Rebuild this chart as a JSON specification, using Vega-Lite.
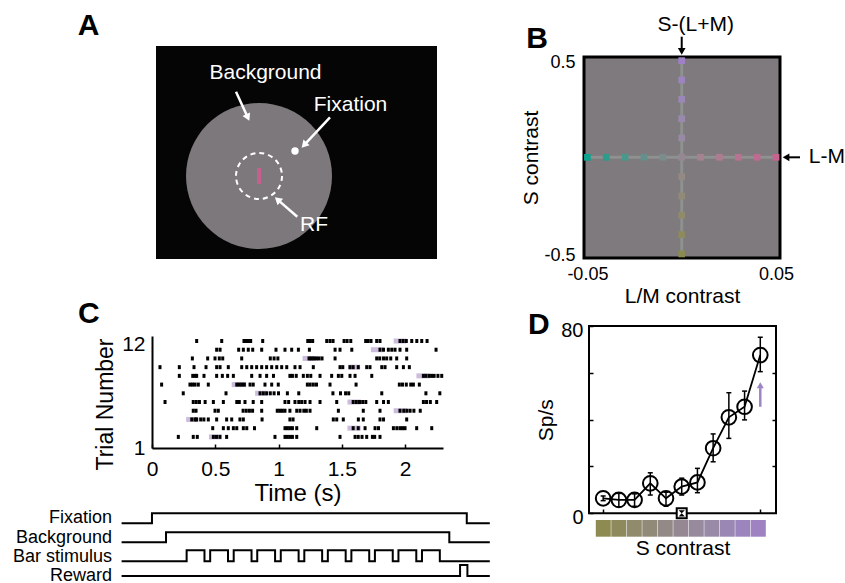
{
"$schema": "https://vega.github.io/schema/vega-lite/v6.json",
"width": 845, "height": 583, "autosize": {"type": "none"}, "padding": 0, "background": "white",
"config": {
  "view": {"stroke": null},
  "font": "Liberation Sans",
  "axis": {"grid": false, "labelColor": "black", "titleColor": "black", "titleFontWeight": "normal", "labelFont": "Liberation Sans", "titleFont": "Liberation Sans", "domainColor": "black", "tickColor": "black", "labelFlush": false, "labelOverlap": false}
},
"datasets": {
  "spikes": [
    {"k":12,"t":0.353},{"k":12,"t":0.551},{"k":12,"t":0.727},{"k":12,"t":0.745},{"k":12,"t":0.762},{"k":12,"t":0.78},{"k":12,"t":0.875},{"k":12,"t":1.231},{"k":12,"t":1.25},{"k":12,"t":1.27},{"k":12,"t":1.381},{"k":12,"t":1.407},{"k":12,"t":1.431},{"k":12,"t":1.518},{"k":12,"t":1.542},{"k":12,"t":1.571},{"k":12,"t":1.689},{"k":12,"t":1.708},{"k":12,"t":1.731},{"k":12,"t":1.776},{"k":12,"t":1.802},{"k":12,"t":1.96},{"k":12,"t":1.985},{"k":12,"t":2.01},{"k":12,"t":2.053},{"k":12,"t":2.093},{"k":12,"t":2.132},{"k":12,"t":2.174},
    {"k":11,"t":0.511},{"k":11,"t":0.538},{"k":11,"t":0.685},{"k":11,"t":0.722},{"k":11,"t":0.761},{"k":11,"t":0.796},{"k":11,"t":0.867},{"k":11,"t":0.98},{"k":11,"t":1.051},{"k":11,"t":1.104},{"k":11,"t":1.157},{"k":11,"t":1.244},{"k":11,"t":1.447},{"k":11,"t":1.486},{"k":11,"t":1.579},{"k":11,"t":1.802},{"k":11,"t":1.83},{"k":11,"t":1.868},{"k":11,"t":1.895},{"k":11,"t":1.921},{"k":11,"t":1.96},{"k":11,"t":2.013},{"k":11,"t":2.245},
    {"k":10,"t":0.319},{"k":10,"t":0.44},{"k":10,"t":0.498},{"k":10,"t":0.532},{"k":10,"t":0.559},{"k":10,"t":0.709},{"k":10,"t":0.935},{"k":10,"t":0.965},{"k":10,"t":0.995},{"k":10,"t":1.241},{"k":10,"t":1.26},{"k":10,"t":1.28},{"k":10,"t":1.3},{"k":10,"t":1.32},{"k":10,"t":1.344},{"k":10,"t":1.447},{"k":10,"t":1.776},{"k":10,"t":1.8},{"k":10,"t":1.83},{"k":10,"t":1.855},{"k":10,"t":1.887},{"k":10,"t":1.934},{"k":10,"t":2.013},
    {"k":9,"t":0.063},{"k":9,"t":0.216},{"k":9,"t":0.332},{"k":9,"t":0.427},{"k":9,"t":0.511},{"k":9,"t":0.538},{"k":9,"t":0.603},{"k":9,"t":0.709},{"k":9,"t":0.749},{"k":9,"t":0.788},{"k":9,"t":0.827},{"k":9,"t":0.867},{"k":9,"t":0.906},{"k":9,"t":0.946},{"k":9,"t":0.986},{"k":9,"t":1.025},{"k":9,"t":1.065},{"k":9,"t":1.13},{"k":9,"t":1.17},{"k":9,"t":1.275},{"k":9,"t":1.486},{"k":9,"t":1.508},{"k":9,"t":1.565},{"k":9,"t":1.59},{"k":9,"t":1.63},{"k":9,"t":1.697},{"k":9,"t":1.723},{"k":9,"t":1.816},{"k":9,"t":1.842},{"k":9,"t":1.934},{"k":9,"t":1.987},{"k":9,"t":2.034},
    {"k":8,"t":0.216},{"k":8,"t":0.322},{"k":8,"t":0.34},{"k":8,"t":0.353},{"k":8,"t":0.411},{"k":8,"t":0.511},{"k":8,"t":0.556},{"k":8,"t":0.598},{"k":8,"t":0.643},{"k":8,"t":0.788},{"k":8,"t":0.854},{"k":8,"t":0.906},{"k":8,"t":0.96},{"k":8,"t":1.09},{"k":8,"t":1.11},{"k":8,"t":1.14},{"k":8,"t":1.196},{"k":8,"t":1.228},{"k":8,"t":1.255},{"k":8,"t":1.328},{"k":8,"t":1.42},{"k":8,"t":1.473},{"k":8,"t":1.5},{"k":8,"t":1.565},{"k":8,"t":1.605},{"k":8,"t":1.737},{"k":8,"t":2.145},{"k":8,"t":2.165},{"k":8,"t":2.19},{"k":8,"t":2.21},{"k":8,"t":2.23},{"k":8,"t":2.26},{"k":8,"t":2.29},
    {"k":7,"t":0.076},{"k":7,"t":0.3},{"k":7,"t":0.32},{"k":7,"t":0.34},{"k":7,"t":0.366},{"k":7,"t":0.445},{"k":7,"t":0.67},{"k":7,"t":0.69},{"k":7,"t":0.71},{"k":7,"t":0.73},{"k":7,"t":0.775},{"k":7,"t":0.8},{"k":7,"t":0.893},{"k":7,"t":0.946},{"k":7,"t":0.998},{"k":7,"t":1.228},{"k":7,"t":1.25},{"k":7,"t":1.275},{"k":7,"t":1.3},{"k":7,"t":1.407},{"k":7,"t":1.613},{"k":7,"t":1.955},{"k":7,"t":1.98},{"k":7,"t":2.01},{"k":7,"t":2.045},{"k":7,"t":2.066},{"k":7,"t":2.113},
    {"k":6,"t":0.247},{"k":6,"t":0.585},{"k":6,"t":0.854},{"k":6,"t":0.88},{"k":6,"t":0.906},{"k":6,"t":0.935},{"k":6,"t":0.965},{"k":6,"t":1.0},{"k":6,"t":1.07},{"k":6,"t":1.16},{"k":6,"t":1.43},{"k":6,"t":1.49},{"k":6,"t":1.53},{"k":6,"t":1.555},{"k":6,"t":1.816},{"k":6,"t":2.165},{"k":6,"t":2.275},
    {"k":5,"t":0.103},{"k":5,"t":0.326},{"k":5,"t":0.35},{"k":5,"t":0.375},{"k":5,"t":0.42},{"k":5,"t":0.485},{"k":5,"t":0.564},{"k":5,"t":0.67},{"k":5,"t":0.69},{"k":5,"t":0.735},{"k":5,"t":0.8},{"k":5,"t":0.867},{"k":5,"t":1.051},{"k":5,"t":1.08},{"k":5,"t":1.13},{"k":5,"t":1.16},{"k":5,"t":1.183},{"k":5,"t":1.21},{"k":5,"t":1.249},{"k":5,"t":1.328},{"k":5,"t":1.46},{"k":5,"t":1.59},{"k":5,"t":1.615},{"k":5,"t":1.64},{"k":5,"t":1.665},{"k":5,"t":1.69},{"k":5,"t":1.776},{"k":5,"t":1.83},{"k":5,"t":1.868},{"k":5,"t":2.145},{"k":5,"t":2.17},{"k":5,"t":2.2},{"k":5,"t":2.25},
    {"k":4,"t":0.326},{"k":4,"t":0.348},{"k":4,"t":0.498},{"k":4,"t":0.524},{"k":4,"t":0.72},{"k":4,"t":0.745},{"k":4,"t":0.77},{"k":4,"t":0.795},{"k":4,"t":0.867},{"k":4,"t":0.99},{"k":4,"t":1.01},{"k":4,"t":1.03},{"k":4,"t":1.051},{"k":4,"t":1.09},{"k":4,"t":1.144},{"k":4,"t":1.17},{"k":4,"t":1.2},{"k":4,"t":1.22},{"k":4,"t":1.249},{"k":4,"t":1.473},{"k":4,"t":1.67},{"k":4,"t":1.802},{"k":4,"t":1.96},{"k":4,"t":1.99},{"k":4,"t":2.015},{"k":4,"t":2.04},{"k":4,"t":2.07},{"k":4,"t":2.12},
    {"k":3,"t":0.314},{"k":3,"t":0.34},{"k":3,"t":0.353},{"k":3,"t":0.385},{"k":3,"t":0.41},{"k":3,"t":0.445},{"k":3,"t":0.511},{"k":3,"t":0.59},{"k":3,"t":0.63},{"k":3,"t":0.695},{"k":3,"t":0.722},{"k":3,"t":0.87},{"k":3,"t":1.09},{"k":3,"t":1.115},{"k":3,"t":1.433},{"k":3,"t":1.46},{"k":3,"t":1.512},{"k":3,"t":1.631},{"k":3,"t":1.67},{"k":3,"t":1.802},{"k":3,"t":1.83},{"k":3,"t":2.013},
    {"k":2,"t":0.48},{"k":2,"t":0.564},{"k":2,"t":0.603},{"k":2,"t":0.643},{"k":2,"t":0.67},{"k":2,"t":0.722},{"k":2,"t":0.749},{"k":2,"t":0.81},{"k":2,"t":1.051},{"k":2,"t":1.07},{"k":2,"t":1.09},{"k":2,"t":1.11},{"k":2,"t":1.144},{"k":2,"t":1.302},{"k":2,"t":1.59},{"k":2,"t":1.63},{"k":2,"t":1.684},{"k":2,"t":1.763},{"k":2,"t":1.79},{"k":2,"t":1.908},{"k":2,"t":1.935},{"k":2,"t":1.96},{"k":2,"t":1.98},{"k":2,"t":2.0},{"k":2,"t":2.092},{"k":2,"t":2.211},
    {"k":1,"t":0.208},{"k":1,"t":0.326},{"k":1,"t":0.358},{"k":1,"t":0.485},{"k":1,"t":0.51},{"k":1,"t":0.537},{"k":1,"t":0.59},{"k":1,"t":0.972},{"k":1,"t":1.051},{"k":1,"t":1.07},{"k":1,"t":1.09},{"k":1,"t":1.11},{"k":1,"t":1.144},{"k":1,"t":1.486},{"k":1,"t":1.605},{"k":1,"t":1.63},{"k":1,"t":1.66},{"k":1,"t":1.697},{"k":1,"t":1.742},{"k":1,"t":1.76},{"k":1,"t":1.802}
  ],
  "boxes": [
    {"k":12,"t":1.91,"t2":2.01},{"k":11,"t":1.73,"t2":1.83},{"k":10,"t":1.19,"t2":1.29},{"k":9,"t":1.55,"t2":1.645},{"k":8,"t":2.09,"t2":2.195},{"k":7,"t":0.63,"t2":0.745},{"k":6,"t":0.815,"t2":0.91},{"k":5,"t":1.545,"t2":1.65},{"k":4,"t":1.91,"t2":2.015},{"k":3,"t":0.27,"t2":0.365},{"k":2,"t":1.545,"t2":1.65},{"k":1,"t":0.45,"t2":0.55}
  ],
  "timing": [
    {"sig":"Fixation","t":-0.24,"v":3.0},{"sig":"Fixation","t":0.0,"v":3.53},{"sig":"Fixation","t":2.488,"v":3.0},{"sig":"Fixation","t":2.67,"v":3.0},
    {"sig":"Background","t":-0.24,"v":2.0},{"sig":"Background","t":0.111,"v":2.53},{"sig":"Background","t":2.35,"v":2.0},{"sig":"Background","t":2.67,"v":2.0},
    {"sig":"Bar","t":-0.24,"v":1.0},
    {"sig":"Bar","t":0.274,"v":1.58},{"sig":"Bar","t":0.415,"v":1.0},
    {"sig":"Bar","t":0.46,"v":1.58},{"sig":"Bar","t":0.601,"v":1.0},
    {"sig":"Bar","t":0.646,"v":1.58},{"sig":"Bar","t":0.787,"v":1.0},
    {"sig":"Bar","t":0.832,"v":1.58},{"sig":"Bar","t":0.973,"v":1.0},
    {"sig":"Bar","t":1.018,"v":1.58},{"sig":"Bar","t":1.159,"v":1.0},
    {"sig":"Bar","t":1.204,"v":1.58},{"sig":"Bar","t":1.345,"v":1.0},
    {"sig":"Bar","t":1.39,"v":1.58},{"sig":"Bar","t":1.531,"v":1.0},
    {"sig":"Bar","t":1.576,"v":1.58},{"sig":"Bar","t":1.717,"v":1.0},
    {"sig":"Bar","t":1.762,"v":1.58},{"sig":"Bar","t":1.903,"v":1.0},
    {"sig":"Bar","t":1.948,"v":1.58},{"sig":"Bar","t":2.089,"v":1.0},
    {"sig":"Bar","t":2.134,"v":1.58},{"sig":"Bar","t":2.275,"v":1.0},
    {"sig":"Bar","t":2.67,"v":1.0},
    {"sig":"Reward","t":-0.24,"v":0.23},{"sig":"Reward","t":2.435,"v":0.81},{"sig":"Reward","t":2.493,"v":0.23},{"sig":"Reward","t":2.67,"v":0.23}
  ],
  "bsq": [
    {"x":0,"y":-0.5,"id":"s-0.5"},{"x":0,"y":-0.4,"id":"s-0.4"},{"x":0,"y":-0.3,"id":"s-0.3"},{"x":0,"y":-0.2,"id":"s-0.2"},{"x":0,"y":-0.1,"id":"s-0.1"},
    {"x":0,"y":0.1,"id":"s0.1"},{"x":0,"y":0.2,"id":"s0.2"},{"x":0,"y":0.3,"id":"s0.3"},{"x":0,"y":0.4,"id":"s0.4"},{"x":0,"y":0.5,"id":"s0.5"},
    {"x":-0.05,"y":0,"id":"lm-0.05"},{"x":-0.04,"y":0,"id":"lm-0.04"},{"x":-0.03,"y":0,"id":"lm-0.03"},{"x":-0.02,"y":0,"id":"lm-0.02"},{"x":-0.01,"y":0,"id":"lm-0.01"},
    {"x":0.01,"y":0,"id":"lm0.01"},{"x":0.02,"y":0,"id":"lm0.02"},{"x":0.03,"y":0,"id":"lm0.03"},{"x":0.04,"y":0,"id":"lm0.04"},{"x":0.05,"y":0,"id":"lm0.05"},
    {"x":0,"y":0,"id":"0"}
  ],
  "dpts": [
    {"x":-0.5,"y":6.4,"lo":5.4,"hi":7.4},{"x":-0.4,"y":5.7,"lo":2.8,"hi":8.5},{"x":-0.3,"y":5.7,"lo":3.0,"hi":8.3},{"x":-0.2,"y":12.8,"lo":7.8,"hi":17.3},{"x":-0.1,"y":6.4,"lo":3.0,"hi":9.0},{"x":0,"y":11.4,"lo":7.8,"hi":15.0},{"x":0.1,"y":13.2,"lo":8.8,"hi":19.2},{"x":0.2,"y":27.8,"lo":22.0,"hi":33.9},{"x":0.3,"y":41.0,"lo":32.0,"hi":51.5},{"x":0.4,"y":45.5,"lo":39.9,"hi":52.2},{"x":0.5,"y":67.6,"lo":60.5,"hi":75.2}
  ],
  "strip": [
    {"s":-0.5},{"s":-0.4},{"s":-0.3},{"s":-0.2},{"s":-0.1},{"s":0},{"s":0.1},{"s":0.2},{"s":0.3},{"s":0.4},{"s":0.5}
  ]
},
"resolve": {"scale": {"x": "independent", "y": "independent", "color": "independent"}, "axis": {"x": "independent", "y": "independent"}},
"layer": [
  {
    "encoding": {
      "x": {"field": "x", "type": "quantitative", "scale": {"domain": [-5, 5], "range": [156, 437], "nice": false, "zero": false}, "axis": null},
      "y": {"field": "y", "type": "quantitative", "scale": {"domain": [-3.79, 3.79], "range": [259, 46], "nice": false, "zero": false}, "axis": null}
    },
    "layer": [
      {"data": {"values": [{"x": -5, "y": -3.79, "x2": 5, "y2": 3.79}]}, "mark": {"type": "rect", "color": "#050505"}, "encoding": {"x2": {"field": "x2"}, "y2": {"field": "y2"}}},
      {"data": {"values": [{"x": -1.334, "y": -0.836}]}, "mark": {"type": "point", "shape": "circle", "filled": true, "color": "#7d787b", "opacity": 1, "size": 21316}},
      {"data": {"values": [{"x": -1.334, "y": -0.836}]}, "mark": {"type": "point", "shape": "circle", "filled": false, "color": "white", "opacity": 1, "strokeWidth": 2, "strokeDash": [5, 4], "size": 2116}},
      {"data": {"values": [{"x": -1.406, "x2": -1.263, "y": -1.121, "y2": -0.552}]}, "mark": {"type": "rect", "color": "#c3608b"}, "encoding": {"x2": {"field": "x2"}, "y2": {"field": "y2"}}},
      {"data": {"values": [{"x": -0.053, "y": 0.053}]}, "mark": {"type": "point", "shape": "circle", "filled": true, "color": "white", "opacity": 1, "size": 55}},
      {"data": {"values": [{"x": -2.153, "y": 2.164, "x2": -1.733, "y2": 1.246}, {"x": 1.192, "y": 1.253, "x2": 0.27, "y2": 0.263}, {"x": 0.028, "y": -2.285, "x2": -0.673, "y2": -1.676}]}, "mark": {"type": "rule", "color": "white", "strokeWidth": 2.5}, "encoding": {"x2": {"field": "x2"}, "y2": {"field": "y2"}}},
      {"data": {"values": [{"x": -1.733, "y": 1.246, "a": 155}, {"x": 0.27, "y": 0.263, "a": 223}, {"x": -0.673, "y": -1.676, "a": 311}]}, "mark": {"type": "point", "shape": "triangle-up", "filled": true, "color": "white", "opacity": 1, "size": 70}, "encoding": {"angle": {"field": "a", "type": "quantitative", "scale": null}}},
      {"data": {"values": [{"x": -1.103, "y": 2.829, "label": "Background"}, {"x": 1.922, "y": 1.69, "label": "Fixation"}, {"x": 0.623, "y": -2.58, "label": "RF"}]}, "mark": {"type": "text", "color": "white", "fontSize": 21, "baseline": "middle", "align": "center"}, "encoding": {"text": {"field": "label"}}},
      {"data": {"values": [{"x": -7.4, "y": 4.5, "label": "A"}]}, "mark": {"type": "text", "color": "black", "fontSize": 30, "fontWeight": "bold", "baseline": "middle", "align": "center"}, "encoding": {"text": {"field": "label"}}}
    ]
  },
  {
    "encoding": {
      "x": {"field": "x", "type": "quantitative", "scale": {"domain": [-0.0518, 0.0521], "range": [584, 780], "nice": false, "zero": false},
            "axis": {"orient": "bottom", "offset": -325, "values": [-0.05, 0.05], "labelExpr": "datum.value < 0 ? '-0.05' : '0.05'", "domain": false, "ticks": false, "labelFontSize": 18, "labelPadding": 7, "title": "L/M contrast", "titleFontSize": 21, "titlePadding": 2}},
      "y": {"field": "y", "type": "quantitative", "scale": {"domain": [-0.521, 0.519], "range": [258, 57], "nice": false, "zero": false},
            "axis": {"orient": "left", "offset": -584, "values": [-0.5, 0.5], "labelExpr": "datum.value < 0 ? '-0.5' : '0.5'", "domain": false, "ticks": false, "labelFontSize": 18, "labelPadding": 9, "labelOffset": 2, "title": "S contrast", "titleFontSize": 21, "titlePadding": 2}}
    },
    "layer": [
      {"data": {"values": [{"x": -0.0518, "x2": 0.0521, "y": -0.521, "y2": 0.519}]}, "mark": {"type": "rect", "fill": "#7f7a7d", "stroke": "black", "strokeWidth": 3}, "encoding": {"x2": {"field": "x2"}, "y2": {"field": "y2"}}},
      {"data": {"values": [{"x": -0.05, "x2": 0.05, "y": 0, "y2": 0}, {"x": 0, "x2": 0, "y": -0.5, "y2": 0.5}]}, "mark": {"type": "rule", "color": "#8e918f", "strokeWidth": 3}, "encoding": {"x2": {"field": "x2"}, "y2": {"field": "y2"}}},
      {"data": {"name": "bsq"}, "mark": {"type": "square", "filled": true, "opacity": 1, "size": 45},
       "encoding": {"color": {"field": "id", "type": "nominal", "legend": null,
         "scale": {"domain": ["s-0.5","s-0.4","s-0.3","s-0.2","s-0.1","0","s0.1","s0.2","s0.3","s0.4","s0.5","lm-0.05","lm-0.04","lm-0.03","lm-0.02","lm-0.01","lm0.01","lm0.02","lm0.03","lm0.04","lm0.05"],
                   "range": ["#8b8a4f","#8e8a5d","#908b6b","#928a78","#938985","#958893","#988aa4","#9a89ae","#9b87b7","#9d84c0","#9f80c8","#0ca38f","#2b9d8d","#48988c","#62918b","#7a8c8b","#a4828f","#ae7b90","#b77391","#bf6b91","#c9628f"]}}}},
      {"data": {"values": [{"x": 0, "x2": 0, "y": 0.624, "y2": 0.56}, {"x": 0.0627, "x2": 0.0558, "y": 0, "y2": 0}]}, "mark": {"type": "rule", "color": "black", "strokeWidth": 2}, "encoding": {"x2": {"field": "x2"}, "y2": {"field": "y2"}}},
      {"data": {"values": [{"x": 0, "y": 0.548, "a": 180}, {"x": 0.0553, "y": 0, "a": 270}]}, "mark": {"type": "point", "shape": "triangle-up", "filled": true, "color": "black", "opacity": 1, "size": 60}, "encoding": {"angle": {"field": "a", "type": "quantitative", "scale": null}}},
      {"data": {"values": [{"x": 0.0074, "y": 0.685, "label": "S-(L+M)"}, {"x": 0.0769, "y": 0, "label": "L-M"}]}, "mark": {"type": "text", "color": "black", "fontSize": 21, "baseline": "middle", "align": "center"}, "encoding": {"text": {"field": "label"}}},
      {"data": {"values": [{"x": -0.0767, "y": 0.612, "label": "B"}]}, "mark": {"type": "text", "color": "black", "fontSize": 30, "fontWeight": "bold", "baseline": "middle", "align": "center"}, "encoding": {"text": {"field": "label"}}}
    ]
  },
  {
    "encoding": {
      "x": {"field": "t", "type": "quantitative", "scale": {"domain": [0, 2.3], "range": [152, 443], "nice": false, "zero": false},
            "axis": {"orient": "bottom", "offset": -135, "values": [0, 0.5, 1, 1.5, 2], "format": "~g", "domainWidth": 2, "tickSize": -4, "tickWidth": 1.5, "labelFontSize": 21, "labelPadding": 14, "title": "Time (s)", "titleFontSize": 24, "titlePadding": 2}},
      "y": {"field": "k", "type": "quantitative", "scale": {"domain": [0.3, 12], "range": [448, 336], "nice": false, "zero": false},
            "axis": {"orient": "left", "offset": -152, "values": [1, 12], "ticks": false, "domainWidth": 2, "labelFontSize": 21, "labelPadding": 7, "labelOffset": {"condition": {"test": "datum.value === 1", "value": 12}, "value": 3}, "title": "Trial Number", "titleFontSize": 23, "titlePadding": 4, "titleY": 404}}
    },
    "layer": [
      {"data": {"name": "boxes"}, "mark": {"type": "bar", "height": 5, "color": "#ccbcdc"}, "encoding": {"x2": {"field": "t2"}}},
      {"data": {"name": "spikes"}, "mark": {"type": "tick", "orient": "vertical", "size": 4, "thickness": 3, "color": "black", "opacity": 1}},
      {"data": {"values": [{"t": -0.5, "k": 15.1, "label": "C"}]}, "mark": {"type": "text", "color": "black", "fontSize": 30, "fontWeight": "bold", "baseline": "middle", "align": "center"}, "encoding": {"text": {"field": "label"}}}
    ]
  },
  {
    "encoding": {
      "x": {"field": "t", "type": "quantitative", "scale": {"domain": [-0.24, 2.67], "range": [121.6, 489.8], "nice": false, "zero": false}, "axis": null},
      "y": {"field": "v", "type": "quantitative", "scale": {"domain": [0, 4], "range": [580.3, 504.3], "nice": false, "zero": false}, "axis": null}
    },
    "layer": [
      {"data": {"name": "timing"}, "mark": {"type": "line", "interpolate": "step-after", "color": "black", "strokeWidth": 2}, "encoding": {"detail": {"field": "sig"}}},
      {"data": {"values": [{"t": -0.316, "v": 3.26, "label": "Fixation"}, {"t": -0.316, "v": 2.23, "label": "Background"}, {"t": -0.316, "v": 1.24, "label": "Bar stimulus"}, {"t": -0.316, "v": 0.24, "label": "Reward"}]},
       "mark": {"type": "text", "color": "black", "fontSize": 18, "baseline": "middle", "align": "right"}, "encoding": {"text": {"field": "label"}}}
    ]
  },
  {
    "resolve": {"axis": {"y": "independent"}},
    "encoding": {
      "x": {"field": "x", "type": "quantitative", "scale": {"domain": [-0.59, 0.6], "range": [589, 776], "nice": false, "zero": false},
            "axis": {"orient": "bottom", "offset": -70, "values": [-0.5, 0.5], "labels": false, "domain": false, "tickSize": -4, "tickWidth": 1.5, "title": "S contrast", "titleFontSize": 21, "titlePadding": 24}},
      "y": {"field": "y", "type": "quantitative", "scale": {"domain": [0, 80], "range": [513.3, 326], "nice": false, "zero": false}, "axis": null}
    },
    "layer": [
      {"data": {"values": [{"x": -0.59, "x2": 0.6, "y": 0, "y2": 80}]}, "mark": {"type": "rect", "filled": false, "stroke": "black", "strokeWidth": 2},
       "encoding": {"x2": {"field": "x2"}, "y2": {"field": "y2"},
         "y": {"field": "y", "type": "quantitative", "scale": {"domain": [0, 80], "range": [513.3, 326], "nice": false, "zero": false},
               "axis": {"orient": "left", "offset": -589, "values": [0, 20, 40, 60, 80], "labelExpr": "datum.value == 0 || datum.value == 80 ? datum.label : ''", "domain": false, "tickSize": -4, "tickWidth": 1.5, "labelFontSize": 20, "labelPadding": 10, "labelOffset": 4, "title": "Sp/s", "titleFontSize": 21, "titlePadding": 4}}}},
      {"data": {"name": "dpts"}, "mark": {"type": "line", "color": "black", "strokeWidth": 1.8},
       "encoding": {"y": {"field": "y", "type": "quantitative", "scale": {"domain": [0, 80], "range": [513.3, 326], "nice": false, "zero": false},
               "axis": {"orient": "right", "offset": -69, "values": [20, 40, 60], "labels": false, "domain": false, "tickSize": -4, "tickWidth": 1.5, "title": null}}}},
      {"data": {"name": "dpts"}, "mark": {"type": "rule", "color": "black", "strokeWidth": 1.5},
       "encoding": {"y": {"field": "lo", "type": "quantitative", "scale": {"domain": [0, 80], "range": [513.3, 326], "nice": false, "zero": false}, "axis": null}, "y2": {"field": "hi"}}},
      {"data": {"name": "dpts"}, "mark": {"type": "tick", "orient": "horizontal", "size": 5, "thickness": 1.5, "color": "black", "opacity": 1},
       "encoding": {"y": {"field": "lo", "type": "quantitative", "scale": {"domain": [0, 80], "range": [513.3, 326], "nice": false, "zero": false}, "axis": null}}},
      {"data": {"name": "dpts"}, "mark": {"type": "tick", "orient": "horizontal", "size": 5, "thickness": 1.5, "color": "black", "opacity": 1},
       "encoding": {"y": {"field": "hi", "type": "quantitative", "scale": {"domain": [0, 80], "range": [513.3, 326], "nice": false, "zero": false}, "axis": null}}},
      {"data": {"name": "dpts"}, "mark": {"type": "point", "shape": "circle", "filled": false, "color": "black", "opacity": 1, "strokeWidth": 2, "size": 215}},
      {"data": {"values": [{"x": 0, "y": 0}]}, "mark": {"type": "point", "shape": "square", "filled": false, "fill": "white", "stroke": "black", "opacity": 1, "strokeWidth": 2, "size": 100}},
      {"data": {"values": [{"x": 0, "y": 0}]}, "mark": {"type": "point", "shape": "M-1,-1L1,-1L0,0Z M-1,1L1,1L0,0Z", "filled": true, "color": "black", "opacity": 1, "size": 40}},
      {"data": {"values": [{"x": 0.5, "lo": 45.5, "hi": 53.5}]}, "mark": {"type": "rule", "color": "#9d85c3", "strokeWidth": 2.5},
       "encoding": {"y": {"field": "lo", "type": "quantitative", "scale": {"domain": [0, 80], "range": [513.3, 326], "nice": false, "zero": false}, "axis": null}, "y2": {"field": "hi"}}},
      {"data": {"values": [{"x": 0.5, "y": 54.7}]}, "mark": {"type": "point", "shape": "triangle-up", "filled": true, "color": "#9d85c3", "opacity": 1, "size": 50}},
      {"data": {"values": [{"x": -0.91, "y": 80.4, "label": "D"}]}, "mark": {"type": "text", "color": "black", "fontSize": 30, "fontWeight": "bold", "baseline": "middle", "align": "center"}, "encoding": {"text": {"field": "label"}}}
    ]
  },
  {
    "data": {"name": "strip"},
    "mark": {"type": "bar", "width": 15},
    "encoding": {
      "x": {"field": "s", "type": "quantitative", "scale": {"domain": [-0.5, 0.5], "range": [598.3, 763.3], "nice": false, "zero": false}, "axis": null},
      "y": {"datum": 0, "type": "quantitative", "scale": {"domain": [0, 1], "range": [536.7, 520], "nice": false, "zero": false}, "axis": null},
      "y2": {"datum": 1},
      "color": {"field": "s", "type": "ordinal", "legend": null, "scale": {"domain": [-0.5, -0.4, -0.3, -0.2, -0.1, 0, 0.1, 0.2, 0.3, 0.4, 0.5], "range": ["#8e8b52","#8e8a5e","#908b6c","#928a79","#938986","#958892","#978a9d","#998aa8","#9a87b3","#9c85bc","#9e82c2"]}}
    }
  }
]
}
